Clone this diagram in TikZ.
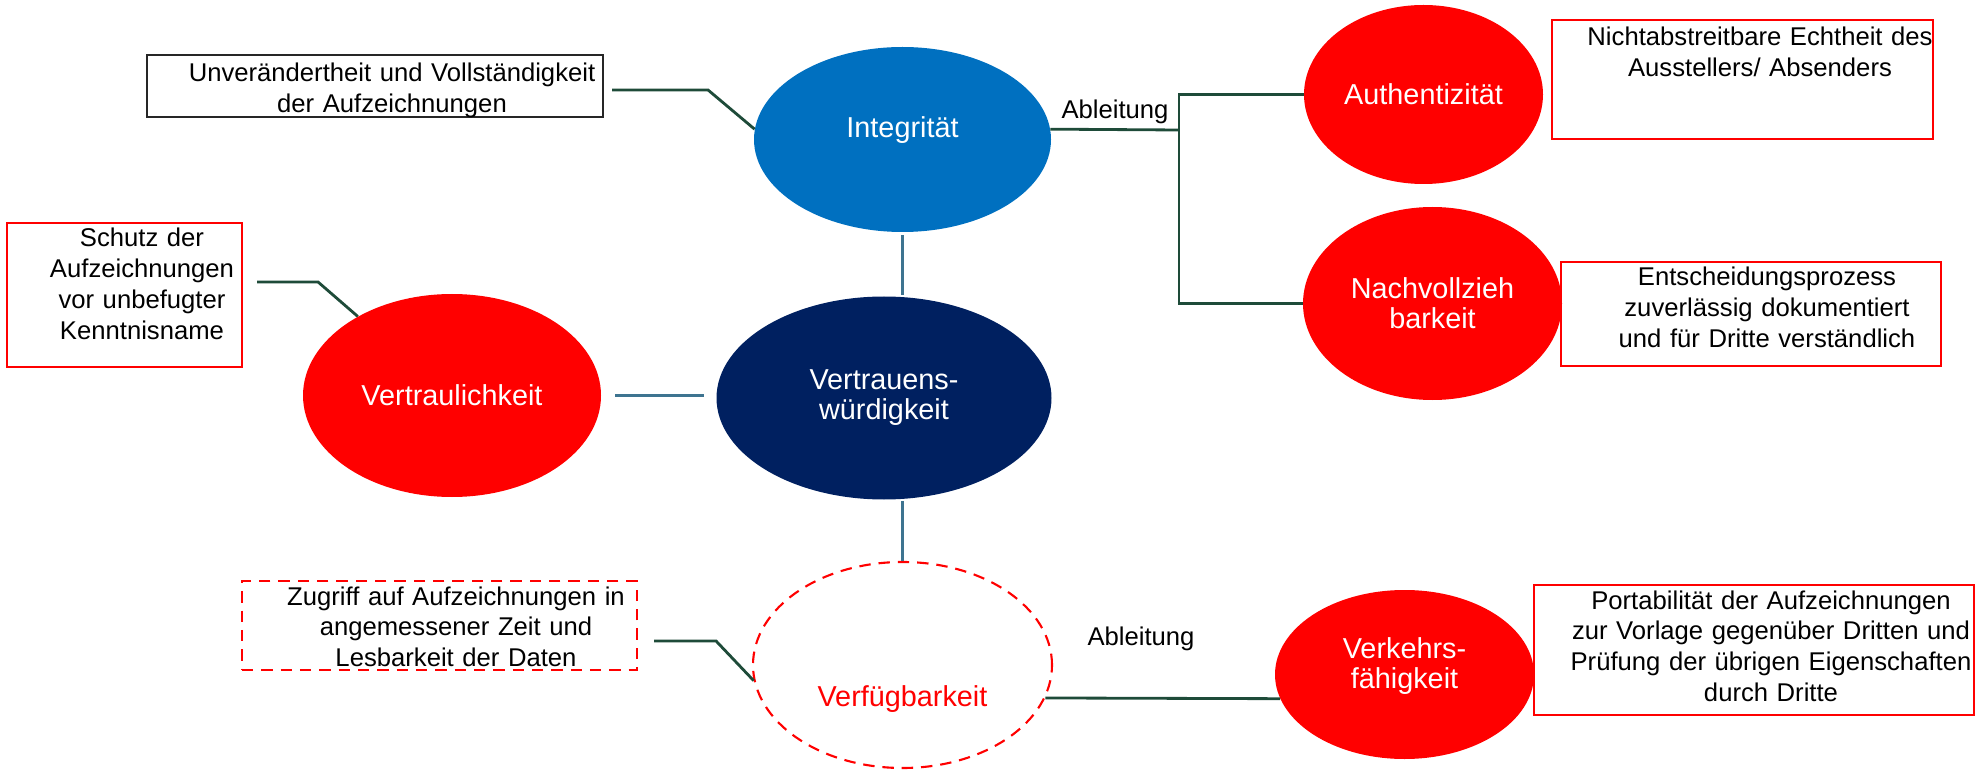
\documentclass[tikz,border=0pt]{standalone}
\usepackage{fontspec}
\setmainfont{Liberation Sans}
\usetikzlibrary{shapes.geometric,positioning}
\definecolor{intblue}{HTML}{0070C0}
\definecolor{trustblue}{HTML}{002060}
\definecolor{linkgreen}{HTML}{1E4B39}
\definecolor{spokegrey}{HTML}{3E7490}
\newcommand\notesize{\fontsize{14.6}{17.6}\selectfont}
\newcommand\ovalsize{\fontsize{16.4}{17}\selectfont}
\tikzset{
  ovaltext/.style={text=white, align=center, font=\ovalsize},
  oval/.style={ellipse, inner sep=0pt, ovaltext},
  note/.style={rectangle, draw=red, line width=1.2pt, inner sep=0pt},
  notetext/.style={anchor=base, align=center, font=\notesize},
  link/.style={draw=linkgreen, line width=1.6pt},
  spoke/.style={draw=spokegrey, line width=1.3pt},
  dashy/.style={dash pattern=on 6.5pt off 4.5pt}
}
\begin{document}
\begin{tikzpicture}
      \useasboundingbox (0,0) rectangle (39.62,-15.42);
        \node[oval, fill=intblue, minimum width=5.94cm, minimum height=3.70cm,
          label={[ovaltext, yshift=0.19cm]center:Integrität}] (int) at (18.05,-2.79) {};
        \node[oval, fill=trustblue, minimum width=6.70cm, minimum height=4.06cm] (vw) at (17.68,-7.96) {Vertrauens-\\würdigkeit};
        \node[oval, fill=red, minimum width=5.96cm, minimum height=4.06cm] (vt) at (9.04,-7.91) {Vertraulichkeit};
        \node[oval, draw=red, dashy, line width=1.2pt, minimum width=5.98cm, minimum height=4.12cm,
          label={[ovaltext, text=red, yshift=-0.68cm]center:Verfügbarkeit}] (vf) at (18.05,-13.30) {};
        \node[oval, fill=red, minimum width=4.78cm, minimum height=3.58cm] (au) at (28.47,-1.89) {Authentizität};
        \node[oval, fill=red, minimum width=5.18cm, minimum height=3.86cm] (nv) at (28.65,-6.07) {Nachvollzieh\\barkeit};
        \node[oval, fill=red, minimum width=5.18cm, minimum height=3.38cm,
          label={[ovaltext, yshift=0.17cm]center:Verkehrs-\\fähigkeit}] (vk) at (28.09,-13.49) {};

        \node[note, draw=black!85, minimum width=9.12cm, minimum height=1.24cm] (b-int) at (7.50,-1.72) {};
        \node[note, minimum width=7.62cm, minimum height=2.38cm] (b-au) at (34.85,-1.59) {};
        \node[note, minimum width=7.60cm, minimum height=2.08cm] (b-nv) at (35.02,-6.28) {};
        \node[note, minimum width=8.80cm, minimum height=2.60cm] (b-vk) at (35.08,-13.00) {};
        \node[note, minimum width=4.70cm, minimum height=2.88cm] (b-vt) at (2.49,-5.90) {};
        \node[note, dashy, minimum width=7.90cm, minimum height=1.78cm] (b-vf) at (8.79,-12.51) {};

        \node[notetext, text width=9cm] (t-int) at (7.84,-1.64) {Unverändertheit und Vollständigkeit\\der Aufzeichnungen};
        \node[notetext, text width=7.6cm] (t-au) at (35.20,-0.92) {Nichtabstreitbare Echtheit des\\Ausstellers/ Absenders};
        \node[notetext, text width=7.2cm] (t-nv) at (35.34,-5.72) {Entscheidungsprozess\\zuverlässig dokumentiert\\und für Dritte verständlich};
        \node[notetext, text width=8.8cm] (t-vk) at (35.42,-12.18) {Portabilität der Aufzeichnungen\\zur Vorlage gegenüber Dritten und\\Prüfung der übrigen Eigenschaften\\durch Dritte};
        \node[notetext, text width=4.6cm] (t-vt) at (2.84,-4.94) {Schutz der\\Aufzeichnungen\\vor unbefugter\\Kenntnisname};
        \node[notetext, text width=7.6cm] (t-vf) at (9.12,-12.10) {Zugriff auf Aufzeichnungen in\\angemessener Zeit und\\Lesbarkeit der Daten};

        \node[font=\notesize] (abl1) at (22.30,-2.24) {Ableitung};
        \node[font=\notesize] (abl2) at (22.82,-12.78) {Ableitung};
        \coordinate (j1) at (23.58,-2.60);

        \draw[spoke] ([yshift=-0.06cm]int.south) -- ([yshift=0.03cm]int.south |- vw.north);
        \draw[spoke] ([yshift=-0.02cm]vf.north |- vw.south) -- (vf.north);
        \draw[spoke] ([xshift=0.28cm]vt.east) -- ([xshift=-0.24cm]vw.west |- vt.east);

        \draw[link] ([xshift=0.16cm,yshift=-0.08cm]b-int.east) -- ++(1.92,0) -- (int.176);
        \draw[link] ([xshift=0.28cm,yshift=0.26cm]b-vt.east) -- ++(1.22,0) -- (vt.140);
        \draw[link] ([xshift=0.32cm,yshift=-0.31cm]b-vf.east) -- ++(1.24,0) -- (vf.186);
        \draw[link] (int.4) -- (j1);
        \draw[link] (au.west) -- (au.west -| j1) |- (nv.west);
        \draw[link] (vf.-13) -- (vk.191);
\end{tikzpicture}
\end{document}
